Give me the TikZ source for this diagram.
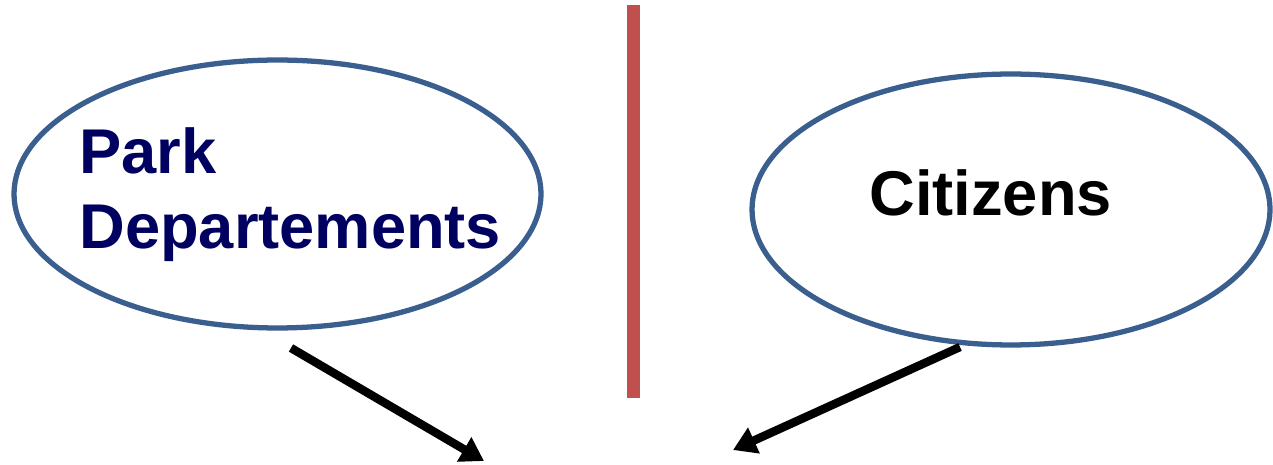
\documentclass[tikz,border=0pt]{standalone}
\usepackage{fontspec}
\setmainfont{Liberation Sans}
\usepackage{xcolor}
\usetikzlibrary{arrows.meta,shapes,positioning}
\definecolor{bubbleblue}{HTML}{3A5F8F}
\definecolor{dividerred}{HTML}{C0504D}
\definecolor{navytext}{HTML}{000060}

\begin{document}
\begin{tikzpicture}[x=0.02cm, y=-0.02cm,
    bubble/.style={ellipse, draw=bubbleblue, line width=3pt, fill=white},
    bubbletext/.style={inner sep=0pt, font=\fontsize{36}{42.7}\selectfont\bfseries, align=left},
    flow/.style={line width=4.8pt, -{Triangle[length=0.46cm,width=0.54cm]}}]
      \useasboundingbox[fill=white] (0,0) rectangle (1273,465);

      % Actors
      \node[bubble, minimum width=10.54cm, minimum height=5.36cm] (park) at (277.5,194) {};
      \node[bubble, minimum width=10.36cm, minimum height=5.42cm] (citizens) at (1011,209.5) {};
      \node[bubbletext, text=navytext, anchor=base west] (parktext) at (79,249) {Park\\Departements};
      \node[bubbletext, text=black, anchor=base west] (citizenstext) at (869,216) {Citizens};

      % Divider
      \coordinate (divtop) at (633.5,5);
      \coordinate (divbottom) at (633.5,398);
      \draw[dividerred, line width=7.4pt] (divtop) -- (divbottom);

      % Flows
      \coordinate (parkfrom) at (291,348);
      \coordinate (parkto) at (484,461);
      \coordinate (citizensfrom) at (960,347);
      \coordinate (citizensto) at (733,450);
      \draw[flow] (parkfrom) -- (parkto);
      \draw[flow] (citizensfrom) -- (citizensto);
    \end{tikzpicture}
\end{document}
